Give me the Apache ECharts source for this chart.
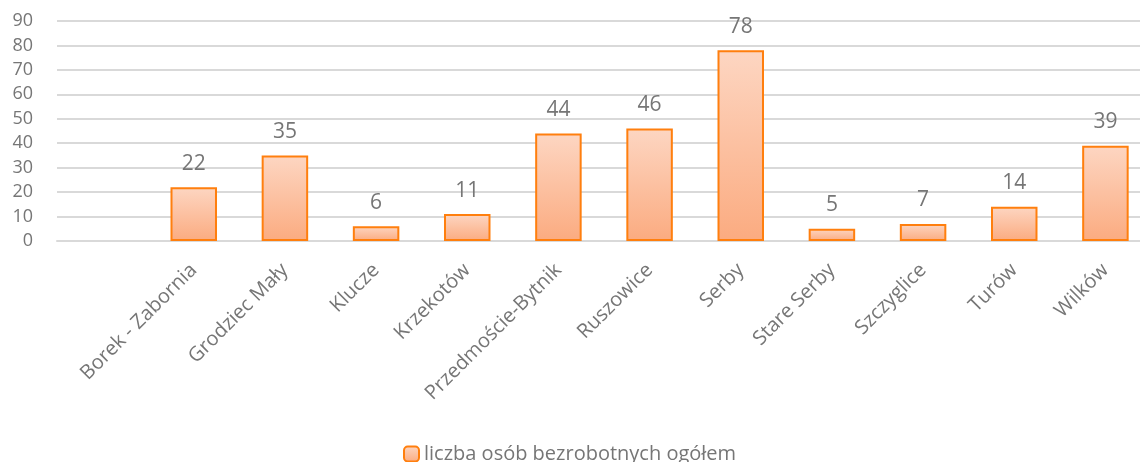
<!DOCTYPE html>
<html>
<head>
<meta charset="utf-8">
<script src="https://cdn.jsdelivr.net/npm/echarts@6/dist/echarts.min.js"></script>
<style>
  html, body { margin: 0; padding: 0; background: #fff; overflow: hidden; }
  /* the original chart is cut off at the right edge, so the canvas is wider than the window */
  #chart { width: 1152px; height: 462px; }
</style>
</head>
<body>
<div id="chart"></div>
<script>
// first slot is empty in the source chart
const categories = ['', 'Borek - Zabornia', 'Grodziec Mały', 'Klucze', 'Krzekotów', 'Przedmoście-Bytnik',
  'Ruszowice', 'Serby', 'Stare Serby', 'Szczyglice', 'Turów', 'Wilków'];
const values = [null, 22, 35, 6, 11, 44, 46, 78, 5, 7, 14, 39];
const yTicks = { min: 0, max: 90, interval: 10 };
const seriesName = 'liczba osób bezrobotnych ogółem';

const fontFamily = '"Open Sans", sans-serif';
const textColor = '#767676';

const barFill = new echarts.graphic.LinearGradient(0, 0, 0, 1, [
  { offset: 0, color: '#fdd6c2' },
  { offset: 1, color: '#fbab80' }
]);

const chart = echarts.init(document.getElementById('chart'));
chart.setOption({
  animation: false,
  grid: { left: 57, right: 1, top: 21, height: 220, containLabel: false },
  legend: {
    top: 439,
    left: 398,
    itemWidth: 15,
    itemHeight: 15,
    textStyle: { fontFamily: fontFamily, fontSize: 20, color: textColor },
    data: [seriesName]
  },
  xAxis: {
    type: 'category',
    data: categories,
    axisLine: { lineStyle: { color: '#d9d9d9', width: 2 } },
    axisTick: { show: false },
    axisLabel: {
      rotate: 45,
      interval: 0,
      margin: 26,
      fontFamily: fontFamily,
      fontSize: 20,
      color: textColor
    }
  },
  yAxis: {
    type: 'value',
    min: yTicks.min,
    max: yTicks.max,
    interval: yTicks.interval,
    axisLine: { show: false },
    axisTick: { show: false },
    splitLine: { lineStyle: { color: '#d9d9d9', width: 2 } },
    axisLabel: {
      margin: 24,
      fontFamily: fontFamily,
      fontSize: 18,
      color: textColor
    }
  },
  series: [{
    name: seriesName,
    type: 'bar',
    data: values,
    barWidth: '51%',
    itemStyle: {
      color: barFill,
      borderColor: '#ff7f0e',
      borderWidth: 2
    },
    label: {
      show: true,
      position: 'top',
      distance: 13,
      fontFamily: fontFamily,
      fontSize: 21,
      color: textColor
    }
  }]
});
</script>
</body>
</html>
